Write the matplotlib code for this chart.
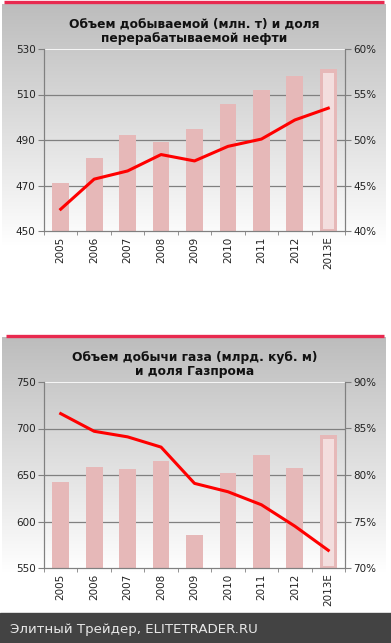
import numpy as np
import matplotlib.pyplot as plt
from matplotlib.ticker import FixedLocator

years = ['2005', '2006', '2007', '2008', '2009', '2010', '2011', '2012', '2013E']

# oil: production (mln t) and refining share (%)
oil_prod = [471, 482, 492, 489, 495, 506, 512, 518, 521]
oil_share = [42.4, 45.7, 46.6, 48.4, 47.7, 49.3, 50.1, 52.2, 53.5]

# gas: production (bcm) and Gazprom share (%)
gas_prod = [643, 659, 656, 665, 586, 652, 671, 657, 693]
gas_share = [86.6, 84.7, 84.1, 83.0, 79.1, 78.2, 76.8, 74.5, 71.9]

W, H = 391, 643
fig = plt.figure(figsize=(W / 100, H / 100), dpi=100)
fig.patch.set_facecolor('white')

# background: gradient panels, red top lines, footer
bg = fig.add_axes([0, 0, 1, 1])
bg.set_xlim(0, W)
bg.set_ylim(H, 0)
bg.axis('off')
img = np.ones((H, W, 3))
for y0, y1 in [(4, 245), (337, 572)]:
    for yy in range(y0, y1):
        v = 0.74 + 0.26 * (yy - y0) / (y1 - y0)
        img[yy, 2:386] = v
bg.imshow(img, extent=(0, W, H, 0), aspect='auto', zorder=0)
bg.plot([4, 384], [2, 2], color='#e8294f', lw=2.4, solid_capstyle='butt', zorder=1)
bg.plot([6, 384], [336, 336], color='#e8294f', lw=2.4, solid_capstyle='butt', zorder=1)
bg.add_patch(plt.Rectangle((0, 613), W, 30, color='#434343', zorder=1))
bg.text(10, 629, 'Элитный Трейдер, ELITETRADER.RU', color='#e8e8e8',
        fontsize=9.6, va='center', ha='left', zorder=2)

grid_c = '#808080'
text_c = '#222222'


def panel(rect, title, bars, line, ylo, yhi, ystep, plo, phi, pstep):
    ax = fig.add_axes(rect)
    ax.patch.set_alpha(0)
    x = np.arange(len(years))
    base = [ylo] * len(bars)
    ax.bar(x, np.array(bars) - ylo, bottom=base, width=0.5, color='#e6b8b8', zorder=2)
    span = yhi - ylo
    ax.bar(x[-1], bars[-1] - ylo - 0.03 * span, bottom=ylo + 0.01 * span,
           width=0.32, color='#f3dede', zorder=3)
    ax.set_xlim(-0.5, len(years) - 0.5)
    ax.set_ylim(ylo, yhi)
    yt = np.arange(ylo, yhi + 1, ystep)
    ax.set_yticks(yt)
    for v in yt[1:-1]:
        ax.axhline(v, color=grid_c, lw=0.9, zorder=1)
    ax.axhline(yhi, color='white', lw=1.2, zorder=1)
    ax.set_xticks(x)
    ax.set_xticklabels(years, rotation=90)
    ax.xaxis.set_minor_locator(FixedLocator(np.arange(-0.5, len(years), 1.0)))
    ax.tick_params(axis='x', which='major', length=0, pad=4, labelsize=7.5, labelcolor=text_c)
    ax.tick_params(axis='x', which='minor', length=3, color=grid_c, direction='out')
    ax.tick_params(axis='y', length=4, color=grid_c, labelsize=7.5, labelcolor=text_c, pad=2)
    ax.spines['top'].set_visible(False)
    for s in ['left', 'right', 'bottom']:
        ax.spines[s].set_color(grid_c)
    ax2 = ax.twinx()
    ax2.plot(x, line, color='#ff0000', lw=2.2, zorder=4)
    ax2.set_ylim(plo, phi)
    pt = np.arange(plo, phi + 0.1, pstep)
    ax2.set_yticks(pt)
    ax2.set_yticklabels([f'{int(p)}%' for p in pt])
    ax2.tick_params(axis='y', length=4, color=grid_c, labelsize=7.5, labelcolor=text_c, pad=2)
    ax2.spines['top'].set_visible(False)
    for s in ['left', 'right', 'bottom']:
        ax2.spines[s].set_color(grid_c)
    ax.set_title(title, fontsize=8.8, fontweight='bold', color='#111111', pad=5, linespacing=1.15)
    return ax


panel([44 / W, 1 - 231 / H, 301 / W, 182 / H],
      'Объем добываемой (млн. т) и доля\nперерабатываемой нефти',
      oil_prod, oil_share, 450, 530, 20, 40, 60, 5)
panel([44 / W, 1 - 568 / H, 301 / W, 186 / H],
      'Объем добычи газа (млрд. куб. м)\nи доля Газпрома',
      gas_prod, gas_share, 550, 750, 50, 70, 90, 5)

fig.savefig('out.png', dpi=100)
